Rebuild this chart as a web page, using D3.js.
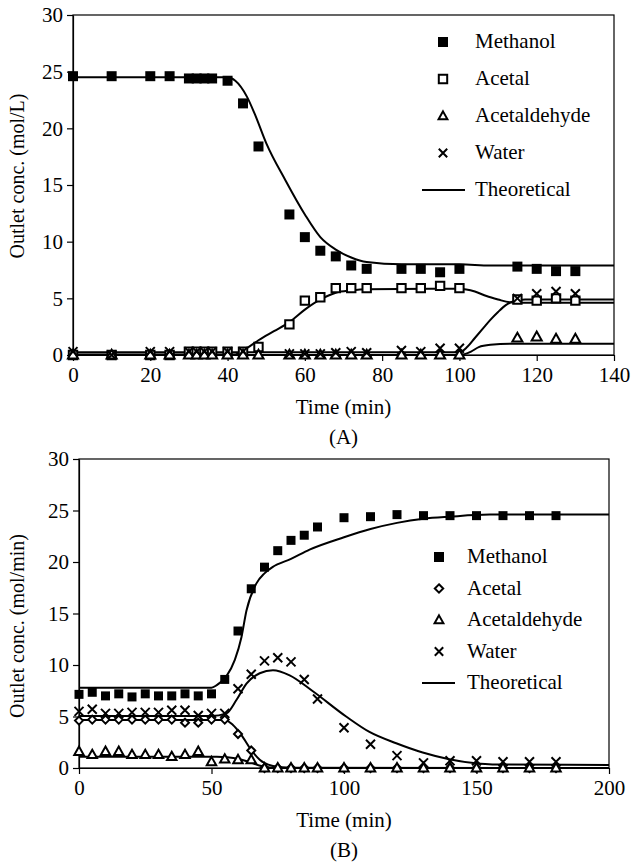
<!DOCTYPE html>
<html>
<head>
<meta charset="utf-8">
<script src="https://cdn.jsdelivr.net/npm/d3@7"></script>
<style>
  body { margin: 0; background: #fff; }
  svg { display: block; font-family: "Liberation Serif", "Times New Roman", serif; }
</style>
</head>
<body>
<svg id="chart" width="633" height="865"></svg>
<script>
// ---- panel A : measured points [time, conc] ----
const aMethanol = [[0,24.6],[10,24.6],[20,24.6],[25,24.6],[30,24.4],[32,24.4],[34,24.4],[36,24.4],[40,24.2],[44,22.2],[48,18.4],[56,12.4],[60,10.4],[64,9.2],[68,8.7],[72,7.9],[76,7.6],[85,7.6],[90,7.6],[95,7.3],[100,7.6],[115,7.8],[120,7.6],[125,7.4],[130,7.4]];
const aAcetal = [[0,0],[10,0],[20,0],[25,0],[30,0.3],[32,0.3],[34,0.3],[36,0.3],[40,0.3],[44,0.3],[48,0.7],[56,2.7],[60,4.8],[64,5.1],[68,5.9],[72,5.9],[76,5.9],[85,5.9],[90,5.9],[95,6.1],[100,5.9],[115,4.9],[120,4.8],[125,5.0],[130,4.8]];
const aAcetaldehyde = [[0,0],[10,0],[20,0],[25,0],[30,0],[32,0],[34,0],[36,0],[40,0],[44,0],[48,0],[56,0],[60,0],[64,0],[68,0],[72,0],[76,0],[85,0],[90,0],[95,0],[100,0],[115,1.5],[120,1.6],[125,1.4],[130,1.4]];
const aWater = [[0,0.3],[10,0],[20,0.3],[25,0.3],[30,0.3],[32,0.3],[34,0.3],[36,0.3],[40,0.3],[44,0.3],[56,0.1],[60,0.1],[64,0.1],[68,0.2],[72,0.3],[76,0.2],[85,0.4],[90,0.3],[95,0.6],[100,0.6],[115,5.0],[120,5.4],[125,5.6],[130,5.4]];
// panel A : theoretical curves
const aTheoMethanol = [[0,24.5],[40,24.5],[42,24.2],[45,22.8],[47,21.3],[50,18.7],[55,15.4],[60,12.4],[64,10.4],[68,9.3],[72,8.6],[76,8.2],[85,8.0],[100,8.0],[108,7.9],[140,7.9]];
const aTheoAcetal = [[0,0.05],[42,0.05],[45,0.6],[48,1.3],[52,2.1],[56,2.9],[60,4.0],[64,4.9],[68,5.5],[72,5.7],[76,5.8],[100,5.85],[104,5.6],[107,5.2],[110,4.9],[113,4.65],[116,4.6],[140,4.6]];
const aTheoAcetaldehyde = [[0,0],[100,0],[103,0.3],[105,0.7],[108,0.9],[114,1.0],[140,1.0]];
const aTheoWater = [[0,0.25],[100,0.25],[102,0.7],[104,1.5],[106,2.3],[108,3.1],[110,3.8],[112,4.4],[114,4.75],[117,4.9],[140,4.9]];

// ---- panel B : measured points ----
const bMethanol = [[0,7.15],[5,7.35],[10,7.0],[15,7.2],[20,6.9],[25,7.2],[30,7.0],[35,7.0],[40,7.2],[45,7.0],[50,7.2],[55,8.6],[60,13.3],[65,17.4],[70,19.5],[75,21.1],[80,22.1],[85,22.6],[90,23.4],[100,24.3],[110,24.4],[120,24.6],[130,24.5],[140,24.5],[150,24.5],[160,24.5],[170,24.5],[180,24.5]];
const bAcetal = [[0,4.6],[5,4.7],[10,4.7],[15,4.7],[20,4.7],[25,4.7],[30,4.7],[35,4.7],[40,4.4],[45,4.4],[50,4.7],[55,4.7],[60,3.3],[65,1.7],[70,0],[75,0],[80,0],[85,0],[90,0],[100,0],[110,0],[120,0],[130,0],[140,0],[150,0],[160,0],[170,0],[180,0]];
const bAcetaldehyde = [[0,1.6],[5,1.3],[10,1.6],[15,1.6],[20,1.3],[25,1.3],[30,1.3],[35,1.1],[40,1.3],[45,1.6],[50,0.6],[55,0.85],[60,0.8],[65,0.8],[70,0],[75,0],[80,0],[85,0],[90,0],[100,0],[110,0],[120,0],[130,0],[140,0],[150,0],[160,0],[170,0],[180,0]];
const bWater = [[0,5.5],[5,5.7],[10,5.3],[15,5.3],[20,5.4],[25,5.4],[30,5.4],[35,5.6],[40,5.6],[45,5.1],[50,5.3],[55,5.3],[60,7.7],[65,9.1],[70,10.4],[75,10.7],[80,10.3],[85,8.6],[90,6.7],[100,3.9],[110,2.3],[120,1.2],[130,0.5],[140,0.7],[150,0.7],[160,0.6],[170,0.6],[180,0.6]];
// panel B : theoretical curves
const bTheoMethanol = [[0,7.8],[50,7.8],[52,8.05],[55.6,8.9],[58.8,10.5],[61.3,12.7],[63.2,15.3],[66.9,17.9],[70,18.9],[73,19.5],[80,20.3],[87,21.2],[100,22.4],[110,23.2],[120,23.8],[130,24.2],[140,24.4],[155,24.6],[200,24.6]];
const bTheoAcetal = [[0,4.65],[55,4.65],[58,4.2],[61.3,3.2],[65,1.75],[68.2,0.8],[73.2,0.2],[80,0.03],[200,0]];
const bTheoAcetaldehyde = [[0,1.1],[52,1.1],[56,1.05],[60,0.9],[64,0.6],[68,0.25],[72,0.05],[80,0],[200,0]];
const bTheoWater = [[0,5.05],[50,5.05],[55.6,5.3],[59.4,6.6],[63.2,8.2],[68.2,9.2],[73.2,9.5],[79.5,9.0],[88,7.5],[100.8,5.0],[109.6,3.5],[119.7,2.4],[129.7,1.5],[139.7,0.85],[149.8,0.45],[156,0.35],[200,0.3]];

const yTicks = [0, 5, 10, 15, 20, 25, 30];
const aXTicks = [0, 20, 40, 60, 80, 100, 120, 140];
const bXTicks = [0, 50, 100, 150, 200];
const legendNames = ["Methanol", "Acetal", "Acetaldehyde", "Water", "Theoretical"];

// marker shapes
function markerPath(type, s) {
  if (type === "square" || type === "open") return `M${-s},${-s}h${2*s}v${2*s}h${-2*s}Z`;
  if (type === "diamond") return `M0,${-s}L${s},0L0,${s}L${-s},0Z`;
  if (type === "triangle") return `M0,${-s*1.1}L${s*1.05},${s*0.75}L${-s*1.05},${s*0.75}Z`;
  return `M${-s},${-s}L${s},${s}M${s},${-s}L${-s},${s}`;
}
function markerStyle(sel, type) {
  if (type === "square") sel.attr("fill", "#000").attr("stroke", "none");
  else sel.attr("fill", type === "cross" ? "none" : "#fff").attr("stroke", "#000").attr("stroke-width", 2);
}

const svg = d3.select("#chart");

function drawPanel(cfg) {
  const x = d3.scaleLinear().domain(cfg.xDomain).range(cfg.xRange);
  const y = d3.scaleLinear().domain([0, 30]).range(cfg.yRange);
  const g = svg.append("g");

  // frame
  g.append("rect")
    .attr("x", cfg.xRange[0]).attr("y", cfg.yRange[1])
    .attr("width", cfg.xRange[1] - cfg.xRange[0])
    .attr("height", cfg.yRange[0] - cfg.yRange[1])
    .attr("fill", "none").attr("stroke", "#000").attr("stroke-width", 1.2);

  const yAxis = g.append("g")
    .attr("transform", "translate(" + cfg.xRange[0] + ",0)")
    .call(d3.axisLeft(y).tickValues(yTicks).tickSize(6).tickSizeOuter(0).tickPadding(4));
  const xAxis = g.append("g")
    .attr("transform", "translate(0," + cfg.yRange[0] + ")")
    .call(d3.axisBottom(x).tickValues(cfg.xTicks).tickSize(6).tickSizeOuter(0).tickPadding(6));
  [xAxis, yAxis].forEach(ax => {
    ax.selectAll("path, line").attr("stroke", "#000").attr("stroke-width", 1.2);
    ax.selectAll("text").attr("font-family", "Liberation Serif, serif").attr("font-size", 21).attr("fill", "#000");
  });

  // theoretical curves
  const line = d3.line().x(d => x(d[0])).y(d => y(d[1])).curve(d3.curveMonotoneX);
  cfg.theo.forEach(c => {
    g.append("path").datum(c)
      .attr("d", line).attr("fill", "none").attr("stroke", "#000").attr("stroke-width", 2);
  });

  // measured points
  cfg.series.forEach(s => {
    g.selectAll(null).data(s.data).enter().append("path")
      .attr("transform", d => "translate(" + x(d[0]) + "," + y(d[1]) + ")")
      .attr("d", markerPath(s.type, s.size))
      .call(markerStyle, s.type);
  });

  // legend
  const lg = g.append("g");
  legendNames.forEach((name, i) => {
    const ly = cfg.legend.y0 + i * cfg.legend.dy;
    if (i < 4) {
      const s = cfg.series[i];
      lg.append("path")
        .attr("transform", "translate(" + cfg.legend.mx + "," + ly + ")")
        .attr("d", markerPath(s.type, s.type === "square" ? 5 : 4.2))
        .call(markerStyle, s.type);
    } else {
      lg.append("line")
        .attr("x1", cfg.legend.lx1).attr("x2", cfg.legend.lx2)
        .attr("y1", ly).attr("y2", ly)
        .attr("stroke", "#000").attr("stroke-width", 2);
    }
    lg.append("text")
      .attr("x", cfg.legend.tx).attr("y", ly + 6)
      .attr("font-size", 21).text(name);
  });

  // axis titles
  g.append("text")
    .attr("transform", "translate(" + cfg.yTitle.x + "," + cfg.yTitle.y + ") rotate(-90)")
    .attr("text-anchor", "middle").attr("font-size", 20).text(cfg.yTitle.text);
  g.append("text")
    .attr("x", (cfg.xRange[0] + cfg.xRange[1]) / 2).attr("y", cfg.yRange[0] + 59)
    .attr("text-anchor", "middle").attr("font-size", 21).text("Time (min)");
  g.append("text")
    .attr("x", (cfg.xRange[0] + cfg.xRange[1]) / 2).attr("y", cfg.yRange[0] + 89)
    .attr("text-anchor", "middle").attr("font-size", 21).text(cfg.label);
}

drawPanel({
  xDomain: [0, 140], xRange: [73, 614], yRange: [355, 15], xTicks: aXTicks,
  theo: [aTheoMethanol, aTheoAcetal, aTheoAcetaldehyde, aTheoWater],
  series: [
    {data: aMethanol, type: "square", size: 5},
    {data: aAcetal, type: "open", size: 4.2},
    {data: aAcetaldehyde, type: "triangle", size: 4.8},
    {data: aWater, type: "cross", size: 4.5}
  ],
  legend: {y0: 42, dy: 37, mx: 443, tx: 475, lx1: 422, lx2: 465},
  yTitle: {x: 24, y: 176, text: "Outlet conc. (mol/L)"},
  label: "(A)"
});

drawPanel({
  xDomain: [0, 200], xRange: [79, 609], yRange: [768, 459], xTicks: bXTicks,
  theo: [bTheoMethanol, bTheoAcetal, bTheoAcetaldehyde, bTheoWater],
  series: [
    {data: bMethanol, type: "square", size: 4.5},
    {data: bAcetal, type: "diamond", size: 4},
    {data: bAcetaldehyde, type: "triangle", size: 4.5},
    {data: bWater, type: "cross", size: 4.5}
  ],
  legend: {y0: 557, dy: 31.5, mx: 439, tx: 467, lx1: 422, lx2: 455},
  yTitle: {x: 24, y: 626, text: "Outlet conc. (mol/min)"},
  label: "(B)"
});
</script>
</body>
</html>
